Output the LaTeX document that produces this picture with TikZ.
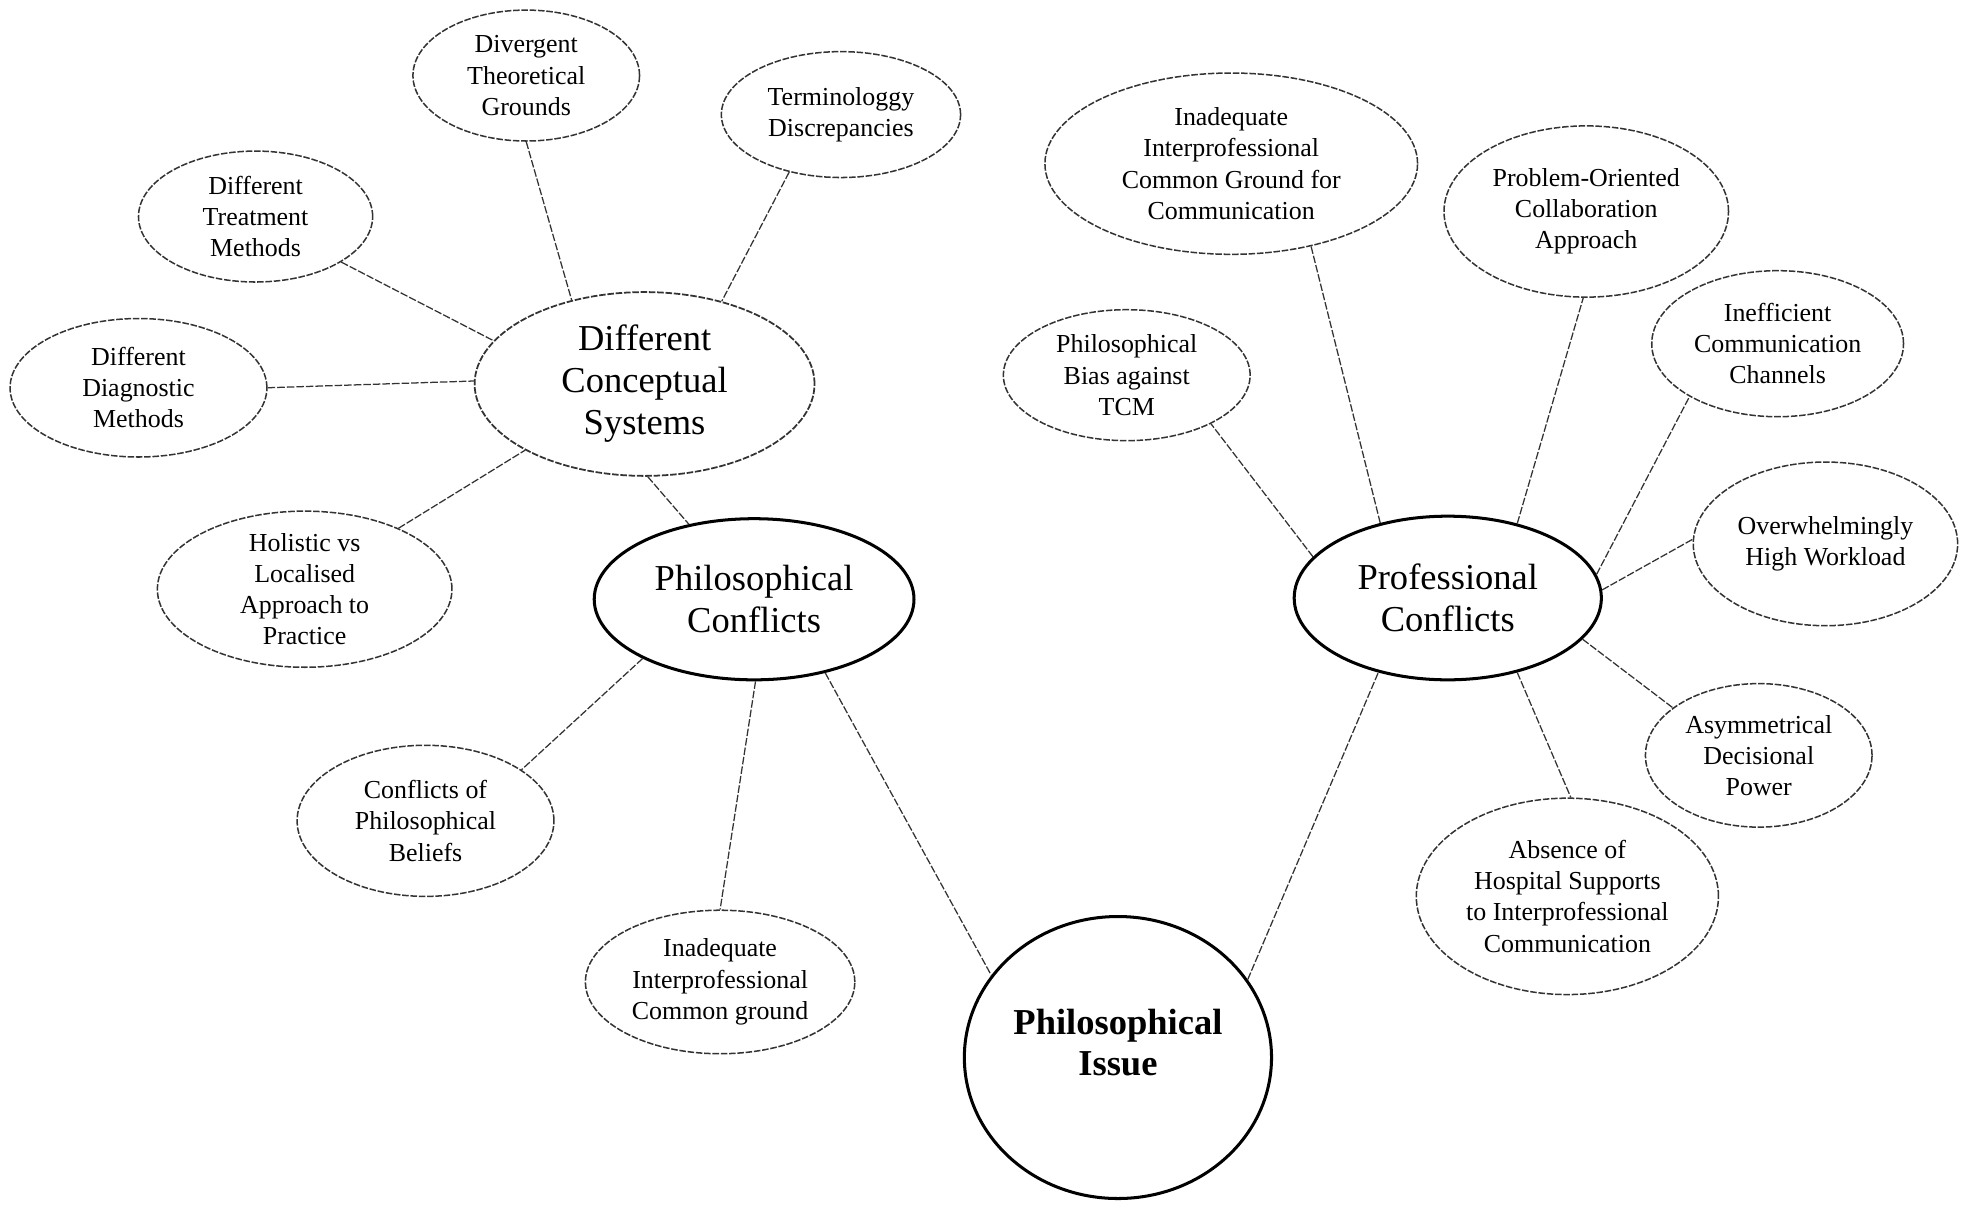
\documentclass[tikz,border=0pt]{standalone}
\usepackage{fontspec}
\setmainfont{Liberation Serif}
\usetikzlibrary{shapes.geometric}
\begin{document}
\begin{tikzpicture}[x=0.5pt,y=-0.5pt,
  ell/.style 2 args={ellipse,minimum width=#1pt,minimum height=#2pt,inner sep=-5pt,align=center},
  leaf/.style={draw=black!80,line width=0.6pt,dash pattern=on 2.6pt off 0.7pt,
    font=\fontsize{10.3}{12.4}\selectfont},
  hub/.style={draw=black,line width=1.2pt,font=\fontsize{14.5}{16.5}\selectfont},
  mid/.style={draw=black!80,line width=0.7pt,dash pattern=on 2.6pt off 0.7pt,
    font=\fontsize{14.5}{16.7}\selectfont},
  link/.style={draw=black!80,line width=0.5pt,dash pattern=on 3pt off 0.8pt}]
\useasboundingbox (0,0) rectangle (1568,960);

% left cluster
\node[leaf,ell={90}{52}] (dtg) at (418,60) {Divergent\\Theoretical\\Grounds};
\node[leaf,ell={95}{50}] (td) at (668,91) {Terminologgy\\Discrepancies};
\node[leaf,ell={93}{52}] (dtm) at (203,172) {Different\\Treatment\\Methods};
\node[leaf,ell={102}{55}] (ddm) at (110,308) {Different\\Diagnostic\\Methods};
\node[mid,ell={135}{73}] (dcs) at (512,305) {Different\\Conceptual\\Systems};
\node[leaf,ell={117}{62}] (hol) at (242,468) {Holistic vs\\Localised\\Approach to\\Practice};
\node[hub,ell={127}{64}] (pc) at (599,476) {Philosophical\\Conflicts};
\node[leaf,ell={102}{60}] (cpb) at (338,652) {Conflicts of\\Philosophical\\Beliefs};
\node[leaf,ell={107}{57}] (iicg) at (572,780) {Inadequate\\Interprofessional\\Common ground};

% root
\node[hub,ell={122}{112},text depth=12pt,font=\bfseries\fontsize{14.5}{16.5}\selectfont] (pi) at (888,840) {Philosophical\\Issue};

% right cluster
\node[hub,ell={122}{65}] (prc) at (1150,475) {Professional\\Conflicts};
\node[leaf,ell={148}{72}] (iicgc) at (978,130) {Inadequate\\Interprofessional\\Common Ground for\\Communication};
\node[leaf,ell={113}{68}] (poca) at (1260,168) {Problem-Oriented\\Collaboration\\Approach};
\node[leaf,ell={98}{52}] (pbt) at (895,298) {Philosophical\\Bias against\\TCM};
\node[leaf,ell={100}{58}] (icc) at (1412,273) {Inefficient\\Communication\\Channels};
\node[leaf,ell={105}{65}] (ohw) at (1450,432) {Overwhelmingly\\High Workload};
\node[leaf,ell={90}{57}] (adp) at (1397,600) {Asymmetrical\\Decisional\\Power};
\node[leaf,ell={120}{78}] (ahs) at (1245,712) {Absence of\\Hospital Supports\\to Interprofessional\\Communication};

% connectors
\draw[link] (dtg.-90) -- (dcs.131);
\draw[link] (td.-132) -- (dcs.47);
\draw[link] (dtm.-28) -- (dcs.164);
\draw[link] (ddm.0) -- (dcs.179);
\draw[link] (hol.33) -- (dcs.-151);
\draw[link] (dcs.-88) -- (pc.131);
\draw[link] (pc.-152) -- (cpb.28);
\draw[link] (pc.-89) -- (iicg.90);
\draw[link] (pc.-46) -- (pi.147);
\draw[link] (pi.31) -- (prc.-133);
\draw[link] (prc.132) -- (iicgc.-46);
\draw[link] (prc.47) -- (poca.-92);
\draw[link] (prc.163) -- (pbt.-30);
\draw[link] (prc.9) -- (icc.-149);
\draw[link] (prc.3) -- (ohw.178);
\draw[link] (prc.-17) -- (adp.151);
\draw[link] (prc.-47) -- (ahs.88);
\end{tikzpicture}
\end{document}
